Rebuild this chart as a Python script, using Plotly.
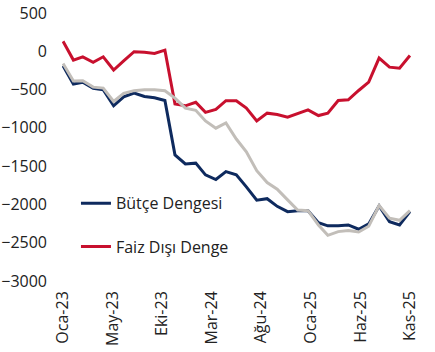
import pandas as pd
import plotly.graph_objects as go

months = pd.date_range("2023-01-01", "2025-11-01", freq="MS")

butce_dengesi = [-190, -427, -405, -485, -503, -712, -595, -547, -590, -607,
                 -643, -1353, -1471, -1461, -1614, -1675, -1571, -1614, -1770, -1945,
                 -1925, -2025, -2094, -2083, -2083, -2238, -2280, -2279, -2268, -2324,
                 -2255, -2020, -2225, -2268, -2094]
faiz_disi_denge = [130, -115, -72, -143, -72, -245, -125, -5, -13, -28,
                   15, -688, -712, -666, -798, -758, -645, -645, -742, -910,
                   -808, -825, -860, -817, -765, -839, -808, -643, -634, -512,
                   -403, -89, -207, -220, -55]
gri_seri = [-160, -388, -386, -468, -481, -656, -550, -514, -503, -503,
            -516, -612, -743, -771, -910, -1004, -935, -1146, -1314, -1560,
            -1715, -1801, -1941, -2072, -2081, -2268, -2403, -2355, -2342, -2360,
            -2285, -2015, -2180, -2207, -2081]

tick_labels = ["Oca-23", "May-23", "Eki-23", "Mar-24", "Ağu-24", "Oca-25", "Haz-25", "Kas-25"]
y_ticks = [500, 0, -500, -1000, -1500, -2000, -2500, -3000]

tick_dates = pd.date_range(months[0], months[-1], periods=len(tick_labels))
x_range = [months[0] - pd.Timedelta(days=3), months[-1] + pd.Timedelta(days=30)]

FONT = "Open Sans"
TXT = "#222222"

fig = go.Figure()
fig.add_trace(go.Scatter(x=months, y=butce_dengesi, mode="lines", name="Bütçe Dengesi",
                         line=dict(color="#0E2A5E", width=3), legend="legend"))
fig.add_trace(go.Scatter(x=months, y=faiz_disi_denge, mode="lines", name="Faiz Dışı Denge",
                         line=dict(color="#C8102E", width=3), legend="legend2"))
fig.add_trace(go.Scatter(x=months, y=gri_seri, mode="lines", name="",
                         line=dict(color="#C2BEB9", width=3), showlegend=False))

y_lo, y_hi = min(y_ticks), max(y_ticks)

fig.update_layout(
    width=435, height=352,
    margin=dict(l=62, r=15, t=13, b=71, autoexpand=False),
    paper_bgcolor="white", plot_bgcolor="white",
    font=dict(family=FONT, size=16, color=TXT),
    xaxis=dict(type="date", range=x_range, tickvals=tick_dates, ticktext=tick_labels,
               tickangle=-90, showgrid=False, showline=False, zeroline=False, ticks="",
               automargin=False, ticklabelstandoff=6, tickfont=dict(size=16, color=TXT)),
    xaxis2=dict(type="date", range=x_range, overlaying="x", anchor="free",
                position=(0 - y_lo) / (y_hi - y_lo), side="bottom", automargin=False,
                tickvals=tick_dates, showticklabels=False, showgrid=False, zeroline=False,
                showline=True, linecolor="#D9D9D9", linewidth=2,
                ticks="outside", ticklen=5, tickwidth=2, tickcolor="#D9D9D9"),
    yaxis=dict(range=[y_lo, y_hi], tickvals=y_ticks, showgrid=False, zeroline=False,
               showline=False, ticks="", automargin=False, ticklabelstandoff=14,
               tickfont=dict(size=16, color=TXT)),
    legend=dict(x=0.039, y=0.29, xanchor="left", yanchor="middle", bgcolor="rgba(0,0,0,0)",
                font=dict(size=16, color=TXT)),
    legend2=dict(x=0.039, y=0.128, xanchor="left", yanchor="middle", bgcolor="rgba(0,0,0,0)",
                 font=dict(size=16, color=TXT)),
    showlegend=True,
)

fig.write_html("out.html")
